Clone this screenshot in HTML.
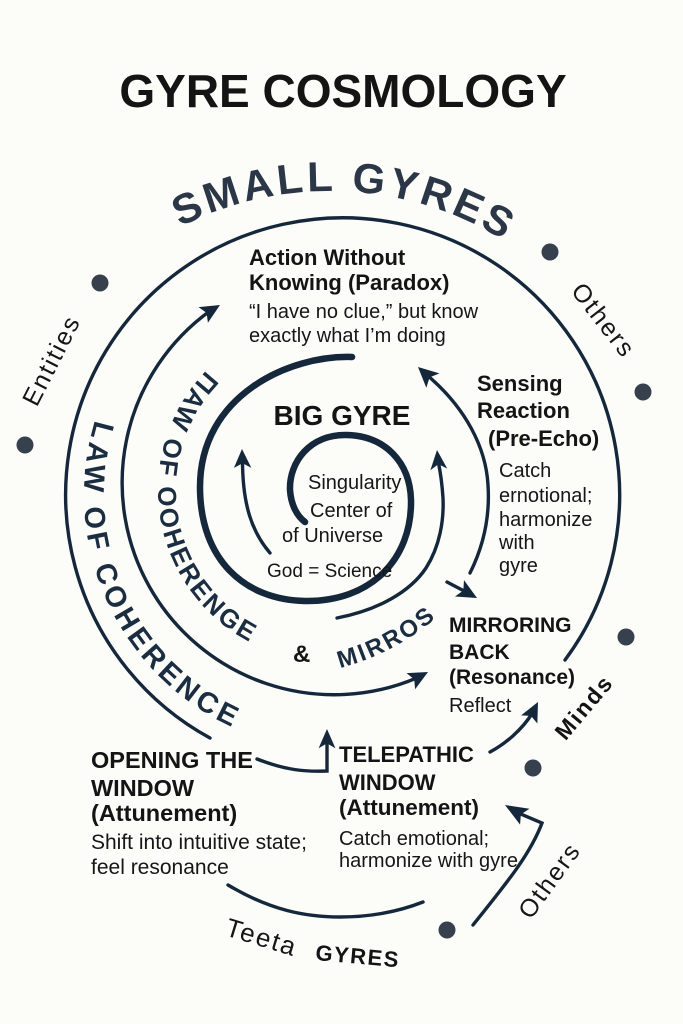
<!DOCTYPE html>
<html>
<head>
<meta charset="utf-8">
<style>
  html, body { margin: 0; padding: 0; background: #fcfcf9; }
  svg { display: block; }
  .b { font-family: "Liberation Sans", Arial, sans-serif; font-weight: bold; fill: #141414; }
  .r { font-family: "Liberation Sans", Arial, sans-serif; font-weight: normal; fill: #161616; }
  .ln { fill: none; stroke: #15283b; stroke-width: 3.4; stroke-linecap: round; }
  .ah { fill: #15283b; }
  .dot { fill: #36414d; }
</style>
</head>
<body>
<svg width="683" height="1024" viewBox="0 0 683 1024" xmlns="http://www.w3.org/2000/svg">
  <rect width="683" height="1024" fill="#fcfcf9"/>
  <defs>
    <path id="pSmall" d="M180.2,227 A330,330 0 0 1 582.8,308.8"/>
    <path id="pLaw1" d="M95.2,420.1 A256,256 0 0 0 317.7,750"/>
    <path id="pLaw2" d="M206.3,370.5 A172,172 0 0 0 285.5,656.1"/>
    <path id="pMir" d="M340,668 A240,240 0 0 0 452,603"/>
  </defs>

  <!-- Title -->
  <text class="b" x="343" y="107" font-size="46" text-anchor="middle">GYRE COSMOLOGY</text>

  <!-- SMALL GYRES curved -->
  <text font-family="Liberation Sans, Arial, sans-serif" font-weight="bold" font-size="42" fill="#2b3746" letter-spacing="3.5">
    <textPath href="#pSmall" startOffset="0">SMALL GYRES</textPath>
  </text>

  <!-- Outer ring -->
  <path class="ln" d="M210,738 A277,277 0 1 1 565,660"/>

  <!-- Second ring (double-headed) -->
  <path class="ln" d="M209.7,311.1 A212,212 0 0 0 417.4,677.7"/>
  <g transform="translate(220,305) scale(1.3) translate(-220,-305)">
    <polygon class="ah" points="220,305 210.7,318.7 209.7,311.1 203.5,306.6"/>
  </g>
  <g transform="translate(428,672) scale(1.3) translate(-428,-672)">
    <polygon class="ah" points="428,672 418.1,685.3 417.4,677.7 411.5,672.9"/>
  </g>

  <!-- LAW OF COHERENCE texts -->
  <text font-family="Liberation Sans, Arial, sans-serif" font-weight="bold" font-size="29" fill="#1b2d40" letter-spacing="4">
    <textPath href="#pLaw1" startOffset="0">LAW OF COHERENCE</textPath>
  </text>
  <text font-family="Liberation Sans, Arial, sans-serif" font-weight="bold" font-size="26" fill="#1b2d40" letter-spacing="2.5">
    <textPath href="#pLaw2" startOffset="0">ΠAW OF OOHERENGE</textPath>
  </text>

  <!-- Big gyre spiral -->
  <path d="M352,357 C290,355 200,395 200,487 C200,560 245,600 305,601 C370,602 412,560 411,500 C410,462 385,436 347,435 C310,434 289,462 290,490 C291,505 297,516 305,522"
        fill="none" stroke="#15283b" stroke-width="6.5" stroke-linecap="round"/>

  <!-- Left inner arrow -->
  <path class="ln" d="M270,553 C252,532 242.5,505 242.5,460"/>
  <g transform="translate(242,449) scale(1.3) translate(-242,-449)">
    <polygon class="ah" points="242,449 249.2,463.5 242.5,460 235.8,463.5"/>
  </g>

  <!-- Right inner arrow (arc under big gyre) -->
  <path class="ln" d="M337,618 C378,610 410,592 426,568 C440,546 444,520 443,498 C442,482 440,470 438.1,460.9"/>
  <g transform="translate(437,450) scale(1.3) translate(-437,-450)">
    <polygon class="ah" points="437,450 444.9,464.3 438.1,460.9 431.9,465.6"/>
  </g>

  <!-- Sensing arrow -->
  <path class="ln" d="M470,573 C484,545 490,515 488,485 C486,448 466,408 426.9,375"/>
  <g transform="translate(418,367) scale(1.3) translate(-418,-367)">
    <polygon class="ah" points="418,367 434.5,371.9 426.9,375 424.4,383"/>
  </g>

  <!-- Small arrow near MIRROS -->
  <path class="ln" d="M447,582 L466,592"/>
  <g transform="translate(477,598) scale(1.25) translate(-477,-598)">
    <polygon class="ah" points="477,598 459.4,596.8 466.05,591.96 466.6,583.7"/>
  </g>

  <!-- OPENING -> TELEPATHIC arrow -->
  <path class="ln" d="M257,759 C285,770 305,772 327,771 L327,741" stroke-linejoin="miter"/>
  <g transform="translate(327,729) scale(1.2) translate(-327,-729)">
    <polygon class="ah" points="327,729 334,745 327,741 320,745"/>
  </g>

  <!-- TELEPATHIC -> Reflect arrow -->
  <path class="ln" d="M490,752 C505,744 522,730 532.6,712.7"/>
  <g transform="translate(538,702) scale(1.3) translate(-538,-702)">
    <polygon class="ah" points="538,702 537.5,718.5 532.6,712.7 525,712.3"/>
  </g>

  <!-- Bottom-right arrow -> TELEPATHIC -->
  <path class="ln" d="M473,925 C505,885 530,855 542,823 L518.8,813.2"/>
  <g transform="translate(505,805) scale(1.15) translate(-505,-805)">
    <polygon class="ah" points="505,805 526.3,808.3 518.8,813.2 518.1,822.1"/>
  </g>

  <!-- Bottom arc -->
  <path class="ln" d="M228,885 C270,910 305,917 340,917 C372,917 400,911 423,902"/>

  <!-- Dots -->
  <circle class="dot" cx="100" cy="283" r="8.5"/>
  <circle class="dot" cx="550" cy="252" r="8.5"/>
  <circle class="dot" cx="643" cy="392" r="8.5"/>
  <circle class="dot" cx="25" cy="445" r="8.5"/>
  <circle class="dot" cx="626" cy="637" r="8.5"/>
  <circle class="dot" cx="533" cy="768" r="8.5"/>
  <circle class="dot" cx="447" cy="930" r="8.5"/>

  <!-- Rotated outer labels -->
  <text class="r" font-size="25" letter-spacing="2" text-anchor="middle" fill="#1e2a36" transform="translate(51,360) rotate(-63)" y="9">Entities</text>
  <text class="r" font-size="25" letter-spacing="2" text-anchor="middle" fill="#1e2a36" transform="translate(604,320) rotate(52)" y="9">Others</text>
  <text class="r" font-size="25" letter-spacing="2" text-anchor="middle" fill="#1e2a36" transform="translate(549,880) rotate(-54)" y="9">Others</text>
  <text class="b" font-size="23" letter-spacing="2" text-anchor="middle" fill="#1e2a36" transform="translate(584,707) rotate(-50)" y="8">Minds</text>

  <!-- Action Without Knowing -->
  <text class="b" font-size="22" x="249" y="265">Action Without</text>
  <text class="b" font-size="22" x="249" y="290">Knowing (Paradox)</text>
  <text class="r" font-size="20" x="249" y="318">“I have no clue,” but know</text>
  <text class="r" font-size="20" x="249" y="342">exactly what I’m doing</text>

  <!-- Sensing Reaction -->
  <text class="b" font-size="22" x="477" y="391">Sensing</text>
  <text class="b" font-size="22" x="477" y="418">Reaction</text>
  <text class="b" font-size="22" x="488" y="446">(Pre-Echo)</text>
  <text class="r" font-size="20" x="499" y="477">Catch</text>
  <text class="r" font-size="20" x="499" y="502">ernotional;</text>
  <text class="r" font-size="20" x="499" y="526">harmonize</text>
  <text class="r" font-size="20" x="499" y="549">with</text>
  <text class="r" font-size="20" x="499" y="572">gyre</text>

  <!-- BIG GYRE -->
  <text class="b" font-size="28" x="342" y="425" text-anchor="middle">BIG GYRE</text>
  <text class="r" font-size="20" x="308" y="489">Singularity</text>
  <text class="r" font-size="20" x="310" y="517">Center of</text>
  <text class="r" font-size="20" x="282" y="542">of Universe</text>
  <text class="r" font-size="19" x="267" y="577">God = Science</text>

  <!-- & MIRROS -->
  <text class="b" font-size="24" x="293" y="662">&amp;</text>
  <text font-family="Liberation Sans, Arial, sans-serif" font-weight="bold" font-size="24" fill="#1b2d40" letter-spacing="2.5">
    <textPath href="#pMir" startOffset="0">MIRROS</textPath>
  </text>

  <!-- MIRRORING BACK -->
  <text class="b" font-size="21" x="449" y="632">MIRRORING</text>
  <text class="b" font-size="21" x="449" y="659">BACK</text>
  <text class="b" font-size="21" x="449" y="684">(Resonance)</text>
  <text class="r" font-size="20" x="449" y="712">Reflect</text>

  <!-- TELEPATHIC WINDOW -->
  <text class="b" font-size="22" x="339" y="762">TELEPATHIC</text>
  <text class="b" font-size="22" x="339" y="790">WINDOW</text>
  <text class="b" font-size="22.5" x="339" y="815">(Attunement)</text>
  <text class="r" font-size="20" x="339" y="845">Catch emotional;</text>
  <text class="r" font-size="20" x="339" y="867">harmonize with gyre</text>

  <!-- OPENING THE WINDOW -->
  <text class="b" font-size="23.5" x="91" y="768">OPENING THE</text>
  <text class="b" font-size="23.5" x="91" y="796">WINDOW</text>
  <text class="b" font-size="23.5" x="91" y="821">(Attunement)</text>
  <text class="r" font-size="21" x="91" y="849">Shift into intuitive state;</text>
  <text class="r" font-size="21" x="91" y="874">feel resonance</text>

  <!-- Teeta GYRES -->
  <text class="r" font-size="26" letter-spacing="2" fill="#1a1a1a" transform="translate(224,935) rotate(17)">Teeta</text>
  <text class="b" font-size="22" letter-spacing="1.5" fill="#1a1a1a" transform="translate(315,960) rotate(5)">GYRES</text>
</svg>
</body>
</html>
